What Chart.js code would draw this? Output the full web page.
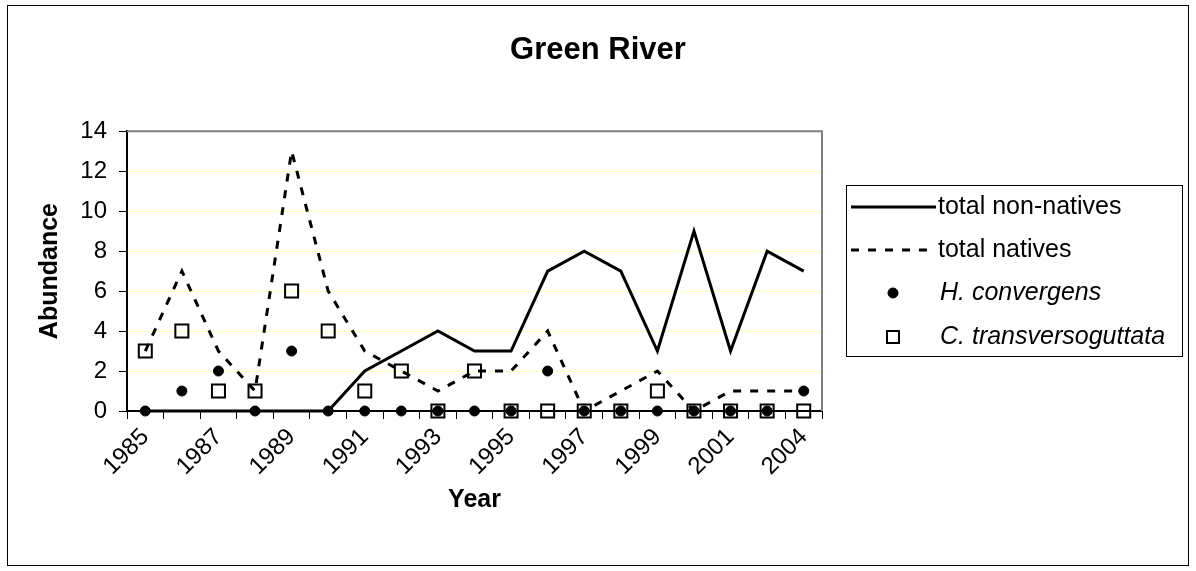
<!DOCTYPE html>
<html>
<head>
<meta charset="utf-8">
<title>Green River</title>
<script src="https://cdn.jsdelivr.net/npm/chart.js@4.4.0/dist/chart.umd.min.js"></script>
<style>
  html, body { margin: 0; padding: 0; background: #fff; }
  #wrap { width: 1196px; height: 571px; }
</style>
</head>
<body>
<div id="wrap"><canvas id="myChart" width="1196" height="571"></canvas></div>
<script>
// values
const years = ['1985', '1986', '1987', '1988', '1989', '1990', '1991', '1992', '1993', '1994',
	'1995', '1996', '1997', '1998', '1999', '2000', '2001', '2003', '2004'];
const xTickLabels = ['1985', '', '1987', '', '1989', '', '1991', '', '1993', '',
	'1995', '', '1997', '', '1999', '', '2001', '', '2004'];
const nonNatives = [0, 0, 0, 0, 0, 0, 2, 3, 4, 3, 3, 7, 8, 7, 3, 9, 3, 8, 7];
const natives = [3, 7, 3, 1, 13, 6, 3, 2, 1, 2, 2, 4, 0, 1, 2, 0, 1, 1, 1];
const hConvergens = [0, 1, 2, 0, 3, 0, 0, 0, 0, 0, 0, 2, 0, 0, 0, 0, 0, 0, 1];
const cTransversoguttata = [3, 4, 1, 1, 6, 4, 1, 2, 0, 2, 0, 0, 0, 0, 1, 0, 0, 0, 0];
const yTicks = [0, 2, 4, 6, 8, 10, 12, 14];
const seriesNames = ['total non-natives', 'total natives', 'H. convergens', 'C. transversoguttata'];

const FONT = '"Liberation Sans", Arial, sans-serif';

// white page with the thin outer frame
const framePlugin = {
	id: 'frame',
	beforeDraw(chart) {
		const ctx = chart.ctx;
		ctx.save();
		ctx.fillStyle = '#fff';
		ctx.fillRect(0, 0, chart.width, chart.height);
		ctx.strokeStyle = '#000';
		ctx.lineWidth = 1;
		ctx.strokeRect(7.5, 5.5, 1181, 560);
		ctx.restore();
	}
};

// grey top and right edge of the plot area
const plotBorderPlugin = {
	id: 'plotBorder',
	beforeDatasetsDraw(chart) {
		const a = chart.chartArea;
		const ctx = chart.ctx;
		ctx.save();
		ctx.strokeStyle = '#808080';
		ctx.lineWidth = 2;
		ctx.beginPath();
		ctx.moveTo(a.left, a.top);
		ctx.lineTo(a.right, a.top);
		ctx.lineTo(a.right, a.bottom);
		ctx.stroke();
		ctx.restore();
	}
};

// boxed legend on the right, drawn from the dataset styles
const legendPlugin = {
	id: 'boxLegend',
	afterDraw(chart) {
		const ctx = chart.ctx;
		const rows = [207, 250, 293, 337];
		ctx.save();
		ctx.strokeStyle = '#000';
		ctx.lineWidth = 1;
		ctx.strokeRect(846.5, 185.5, 336, 171);
		chart.data.datasets.forEach((ds, i) => {
			const y = rows[i];
			ctx.strokeStyle = '#000';
			if (ds.showLine !== false) {
				ctx.lineWidth = ds.borderWidth;
				ctx.setLineDash(ds.borderDash || []);
				ctx.beginPath();
				ctx.moveTo(851, y);
				ctx.lineTo(936, y);
				ctx.stroke();
				ctx.setLineDash([]);
			} else {
				ctx.fillStyle = ds.pointBackgroundColor;
				ctx.lineWidth = ds.pointBorderWidth;
				Chart.helpers.drawPoint(ctx, {
					pointStyle: ds.pointStyle,
					radius: ds.pointStyle === 'rect' ? 8.5 : 5,
					borderWidth: ds.pointBorderWidth
				}, 893, y);
			}
			ctx.fillStyle = '#000';
			ctx.textBaseline = 'middle';
			ctx.textAlign = 'left';
			ctx.font = (i >= 2 ? 'italic ' : '') + '25px ' + FONT;
			ctx.fillText(ds.label, i >= 2 ? 940 : 938, y);
		});
		ctx.restore();
	}
};

new Chart('myChart', {
	type: 'line',
	data: {
		labels: years,
		datasets: [
			{
				label: seriesNames[0],
				data: nonNatives,
				borderColor: '#000',
				borderWidth: 3,
				pointRadius: 0,
				order: 3,
				clip: false
			},
			{
				label: seriesNames[1],
				data: natives,
				borderColor: '#000',
				borderWidth: 3,
				borderDash: [8, 9],
				pointRadius: 0,
				order: 4,
				clip: false
			},
			{
				label: seriesNames[2],
				data: hConvergens,
				showLine: false,
				pointStyle: 'circle',
				pointRadius: 5,
				pointBorderWidth: 1,
				pointBackgroundColor: '#000',
				pointBorderColor: '#000',
				order: 1,
				clip: false
			},
			{
				label: seriesNames[3],
				data: cTransversoguttata,
				showLine: false,
				pointStyle: 'rect',
				pointRadius: 9.2,
				pointBorderWidth: 2,
				pointBackgroundColor: 'rgba(0,0,0,0)',
				pointBorderColor: '#000',
				order: 2,
				clip: false
			}
		]
	},
	options: {
		responsive: false,
		animation: false,
		events: [],
		layout: { padding: 0 },
		plugins: {
			legend: { display: false },
			tooltip: { enabled: false },
			title: {
				display: true,
				text: 'Green River',
				color: '#000',
				font: { family: FONT, size: 31, weight: 'bold' },
				padding: { top: 32, bottom: 62 }
			}
		},
		scales: {
			x: {
				offset: true,
				grid: { offset: true, drawOnChartArea: false, drawTicks: true, tickLength: 8, tickColor: '#000', tickWidth: 1 },
				border: { color: '#000', width: 2 },
				ticks: {
					autoSkip: false,
					maxRotation: 45,
					minRotation: 45,
					color: '#000',
					font: { family: FONT, size: 24 },
					padding: 4,
					callback: (v, i) => xTickLabels[i]
				},
				title: {
					display: true,
					text: 'Year',
					color: '#000',
					font: { family: FONT, size: 25, weight: 'bold' },
					padding: { top: 0, bottom: 56 }
				},
				afterFit(s) { s.height = 160; }
			},
			y: {
				min: 0,
				max: 14,
				afterBuildTicks(s) { s.ticks = yTicks.map(v => ({ value: v })); },
				grid: { color: '#ffffb8', tickColor: '#000', tickLength: 8, lineWidth: 1 },
				border: { color: '#000', width: 2 },
				ticks: { color: '#000', font: { family: FONT, size: 24 }, padding: 12 },
				title: {
					display: true,
					text: 'Abundance',
					color: '#000',
					font: { family: FONT, size: 25, weight: 'bold' },
					padding: { top: 35, bottom: 0 }
				},
				afterFit(s) { s.width = 127; }
			},
			// empty right-hand axis that keeps room for the legend box
			yRight: {
				position: 'right',
				grid: { display: false },
				border: { display: false },
				ticks: { display: false },
				afterFit(s) { s.width = 374; }
			}
		}
	},
	plugins: [framePlugin, plotBorderPlugin, legendPlugin]
});
</script>
</body>
</html>
